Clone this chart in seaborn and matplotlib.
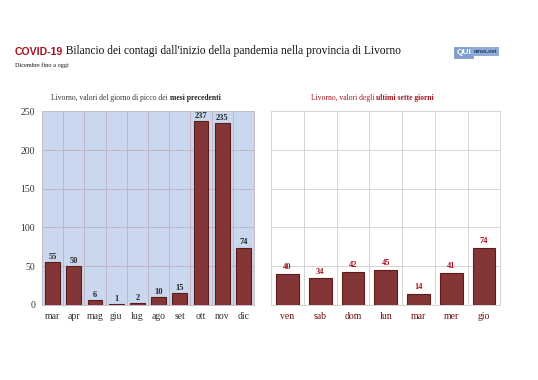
import numpy as np
import matplotlib
matplotlib.use("Agg")
import matplotlib.pyplot as plt
import seaborn as sns

# data
months = ["mar", "apr", "mag", "giu", "lug", "ago", "set", "ott", "nov", "dic"]
peak_values = [55, 50, 6, 1, 2, 10, 15, 237, 235, 74]

days = ["ven", "sab", "dom", "lun", "mar", "mer", "gio"]
week_values = [40, 34, 42, 45, 14, 41, 74]

yticks = [0, 50, 100, 150, 200, 250]

sns.set_style("white")
plt.rcParams["font.family"] = ["Liberation Serif", "DejaVu Serif"]

bar_color = "#843636"
edge_color = "#5c1c1c"
red_text = "#a3141e"

fig = plt.figure(figsize=(5.38, 3.8), dpi=100)

ax1 = fig.add_axes([0.078, 0.198, 0.394, 0.509])
ax2 = fig.add_axes([0.504, 0.198, 0.426, 0.509])

# left chart: peak of previous months
sns.barplot(x=months, y=peak_values, ax=ax1, color=bar_color, width=0.7,
            edgecolor=edge_color, linewidth=0.8, saturation=1)
ax1.set_facecolor("#c9d8ee")
ax1.set_ylim(0, 250)
ax1.set_yticks(yticks)
ax1.set_xticks(np.arange(-0.5, len(months)), minor=True)
ax1.grid(which="minor", axis="x", color="#c4b4c4", linewidth=0.7)
ax1.grid(which="major", axis="y", color="#c4b4c4", linewidth=0.7)
ax1.set_axisbelow(True)
ax1.tick_params(which="both", length=0, labelsize=7, colors="#333333", pad=5)
for s in ax1.spines.values():
    s.set_color("#c8bcc8")
    s.set_linewidth(0.7)
ax1.bar_label(ax1.containers[0], fontsize=6, fontweight="bold", padding=1)

# right chart: last seven days
sns.barplot(x=days, y=week_values, ax=ax2, color=bar_color, width=0.7,
            edgecolor=edge_color, linewidth=0.8, saturation=1)
ax2.set_facecolor("white")
ax2.set_ylim(0, 250)
ax2.set_yticks(yticks)
ax2.set_yticklabels([])
ax2.set_xticks(np.arange(-0.5, len(days)), minor=True)
ax2.grid(which="minor", axis="x", color="#d4d4d4", linewidth=0.7)
ax2.grid(which="major", axis="y", color="#d4d4d4", linewidth=0.7)
ax2.set_axisbelow(True)
ax2.tick_params(which="both", length=0, labelsize=7, colors="#6a1010", pad=5)
for s in ax2.spines.values():
    s.set_color("#d4d4d4")
    s.set_linewidth(0.7)
ax2.bar_label(ax2.containers[0], fontsize=6, fontweight="bold", padding=2,
              color=red_text)

# panel titles (normal + bold part)
t1 = fig.text(0.095, 0.738, "Livorno, valori del giorno di picco dei ",
              fontsize=5.5, color="#333333")
ax1.annotate("mesi precedenti", xycoords=t1, xy=(1, 0), va="bottom",
             fontsize=5.5, fontweight="bold", color="#222222",
             annotation_clip=False)
t2 = fig.text(0.578, 0.738, "Livorno, valori degli ", fontsize=5.5,
              color=red_text)
ax2.annotate("ultimi sette giorni", xycoords=t2, xy=(1, 0), va="bottom",
             fontsize=5.5, fontweight="bold", color=red_text,
             annotation_clip=False)

# main title
h = fig.text(0.028, 0.855, "COVID-19", fontsize=7.6, fontweight="bold",
             color=red_text, family=["Liberation Sans", "DejaVu Sans"])
ax1.annotate(" Bilancio dei contagi dall'inizio della pandemia nella provincia di Livorno",
             xycoords=h, xy=(1, 0), va="bottom", fontsize=8.3, color="#111111",
             annotation_clip=False)
fig.text(0.028, 0.823, "Dicembre fino a oggi", fontsize=4.5, color="#111111")

# logo
fig.text(0.848, 0.858, "QUI", fontsize=6, fontweight="bold", color="white",
         family=["Liberation Sans", "DejaVu Sans"],
         bbox=dict(boxstyle="square,pad=0.25", facecolor="#7fa0cc",
                   edgecolor="#6d8fbd", linewidth=0.5))
fig.text(0.880, 0.860, "news.net", fontsize=4, fontweight="bold",
         color="#1d3a66", family=["Liberation Sans", "DejaVu Sans"],
         bbox=dict(boxstyle="square,pad=0.35", facecolor="#8eacd4",
                   edgecolor="none"))

fig.savefig("out.png", dpi=100)
